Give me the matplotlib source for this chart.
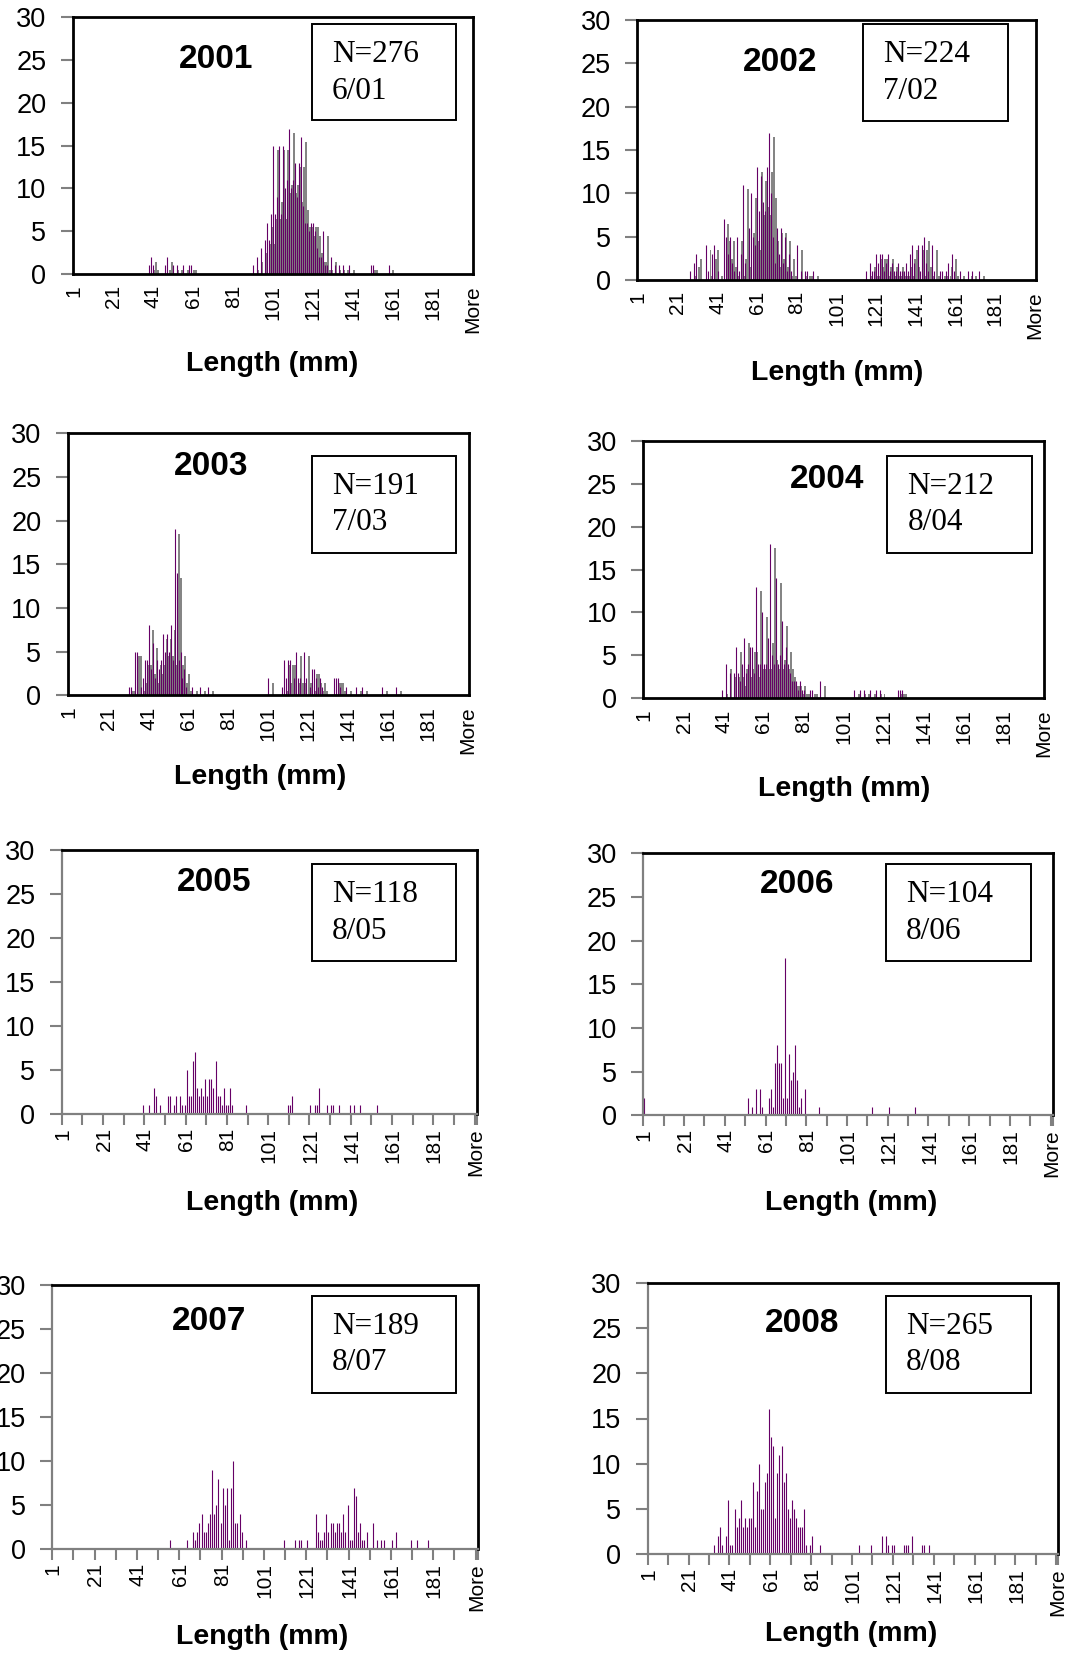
import numpy as np
import matplotlib.pyplot as plt
from matplotlib.patches import Rectangle

W, H = 1067, 1655

# histogram bins: lengths 1..200 mm plus the overflow bin
bins = [str(i) for i in range(1, 201)] + ['More']
tick_labels = ['1', '21', '41', '61', '81', '101', '121', '141', '161', '181', 'More']

years = ['2001', '2002', '2003', '2004', '2005', '2006', '2007', '2008']
sample_n = [276, 224, 191, 212, 118, 104, 189, 265]
sample_dates = ['6/01', '7/02', '7/03', '8/04', '8/05', '8/06', '8/07', '8/08']

# length (mm) -> number of fish
len_2001 = [39, 40, 41, 47, 48, 51, 53, 56, 59, 60,
            91, 93, 95, 97, 98, 99, 100, 101, 102, 103, 104, 105, 106, 107, 108, 109, 110,
            111, 112, 113, 114, 115, 116, 117, 118, 119, 120, 121, 122, 123, 124, 125, 126,
            127, 128, 130, 132, 134, 136, 139, 150, 151, 159]
cnt_2001 = [1, 2, 1, 1, 2, 1, 1, 1, 1, 1,
            1, 2, 3, 4, 6, 4, 7, 15, 7, 9, 15, 7, 15, 10, 11, 17, 10,
            11, 13, 9, 13, 16, 8, 6, 6, 5, 6, 6, 5, 3, 2, 2, 5,
            1, 1, 2, 1, 1, 1, 1, 1, 1, 1]

len_2002 = [27, 29, 30, 35, 36, 38, 39, 41, 44, 45, 46, 47, 48, 49, 51, 52, 53, 54, 55,
            57, 58, 59, 60, 61, 62, 63, 64, 65, 66, 67, 68, 69, 70, 71, 72, 73, 74, 75,
            76, 77, 78, 81, 83, 85, 86, 89,
            116, 118, 119, 120, 121, 122, 123, 124, 125, 126, 127, 128, 129, 130, 131,
            132, 133, 134, 135, 136, 137, 138, 139, 140, 142, 143, 144, 145, 146, 147,
            149, 150, 153, 154, 156, 157, 159, 160, 163, 167, 169, 173]
cnt_2002 = [1, 2, 3, 4, 1, 3, 4, 1, 7, 5, 3, 5, 2, 1, 5, 1, 3, 11, 2,
            6, 10, 5, 4, 13, 8, 12, 9, 8, 13, 17, 10, 5, 2, 6, 3, 6, 2, 5,
            1, 3, 1, 4, 1, 1, 1, 1,
            1, 2, 1, 1, 3, 2, 3, 3, 1, 2, 3, 1, 2, 1, 1,
            2, 1, 1, 1, 2, 1, 3, 4, 2, 4, 1, 4, 5, 2, 1,
            4, 1, 1, 1, 1, 2, 3, 1, 1, 1, 1, 1]

len_2003 = [31, 32, 34, 35, 37, 38, 39, 40, 41, 42, 43, 44, 45, 46, 47, 48, 49, 50, 51,
            52, 53, 54, 55, 56, 57, 58, 59, 60, 63, 67, 71,
            101, 108, 109, 110, 111, 112, 114, 115, 116, 117, 119, 120, 122, 123, 124,
            125, 126, 127, 128, 134, 135, 136, 137, 140, 145, 148, 158, 165]
cnt_2003 = [1, 1, 5, 5, 1, 2, 4, 4, 8, 3, 6, 2, 4, 3, 4, 7, 5, 7, 5,
            8, 4, 19, 14, 4, 5, 2, 3, 1, 1, 1, 1,
            2, 1, 4, 2, 4, 4, 2, 5, 2, 2, 5, 2, 1, 3, 3,
            2, 1, 2, 1, 2, 2, 2, 1, 1, 1, 1, 1, 1]

len_2004 = [40, 42, 44, 46, 47, 48, 49, 50, 51, 52, 53, 54, 55, 56, 57, 58, 59, 60, 61,
            62, 63, 64, 65, 66, 67, 68, 69, 70, 71, 72, 73, 74, 75, 76, 77, 78, 79, 80,
            81, 84, 85, 89, 106, 109, 111, 114, 117, 119, 128, 129, 130]
cnt_2004 = [1, 4, 3, 3, 6, 3, 2, 4, 7, 3, 4, 6, 6, 3, 13, 4, 4, 10, 4,
            4, 7, 18, 5, 4, 14, 4, 5, 9, 4, 6, 4, 3, 2, 2, 2, 1, 2, 1,
            1, 1, 1, 2, 1, 1, 1, 1, 1, 1, 1, 1, 1]

len_2005 = [40, 43, 45, 46, 48, 52, 53, 55, 56, 58, 59, 60, 61, 62, 63, 64, 65, 66, 67,
            68, 69, 70, 71, 72, 73, 74, 75, 76, 77, 78, 79, 80, 81, 82, 83, 90,
            110, 111, 112, 121, 123, 124, 125, 129, 131, 132, 135, 140, 142, 145, 153]
cnt_2005 = [1, 1, 3, 2, 1, 2, 2, 1, 2, 2, 1, 1, 5, 2, 2, 6, 7, 3, 2,
            3, 2, 4, 2, 4, 4, 3, 6, 2, 2, 1, 3, 1, 1, 3, 1, 1,
            1, 1, 2, 1, 1, 1, 3, 1, 1, 1, 1, 1, 1, 1, 1]

len_2006 = [1, 52, 54, 56, 58, 59, 62, 63, 64, 65, 66, 67, 68, 69, 70, 71, 72, 73, 74,
            75, 76, 77, 78, 80, 87, 113, 121, 134]
cnt_2006 = [2, 2, 1, 3, 3, 1, 2, 3, 1, 6, 8, 6, 6, 2, 18, 2, 7, 4, 5,
            8, 4, 1, 2, 3, 1, 1, 1, 1]

len_2007 = [56, 64, 67, 68, 69, 70, 71, 72, 73, 74, 75, 76, 77, 78, 79, 80, 81, 82, 83,
            84, 85, 86, 87, 88, 89, 90, 92,
            110, 115, 117, 118, 121, 125, 126, 127, 128, 129, 130, 131, 132, 133, 134,
            135, 136, 137, 138, 139, 140, 141, 142, 143, 144, 145, 146, 147, 148, 149,
            152, 154, 156, 157, 161, 163, 170, 173, 178]
cnt_2007 = [1, 1, 2, 1, 2, 3, 4, 2, 2, 3, 4, 9, 4, 5, 8, 3, 7, 5, 7,
            1, 7, 10, 3, 3, 4, 2, 1,
            1, 1, 1, 1, 1, 4, 2, 1, 1, 2, 4, 2, 3, 3, 2,
            3, 3, 2, 4, 2, 5, 1, 1, 7, 6, 2, 3, 1, 1, 2,
            3, 1, 1, 1, 1, 2, 1, 1, 1]

len_2008 = [33, 35, 36, 37, 39, 40, 41, 42, 43, 44, 45, 46, 47, 48, 49, 50, 51, 52, 53,
            54, 55, 56, 57, 58, 59, 60, 61, 62, 63, 64, 65, 66, 67, 68, 69, 70, 71, 72,
            73, 74, 75, 76, 77, 78, 80, 81, 85,
            104, 110, 115, 117, 118, 120, 121, 126, 127, 128, 130, 135, 136, 138]
cnt_2008 = [1, 2, 3, 1, 2, 6, 1, 1, 5, 3, 4, 6, 3, 4, 3, 4, 4, 8, 3,
            7, 10, 5, 5, 8, 9, 16, 13, 12, 4, 9, 11, 12, 8, 9, 5, 4, 6, 5,
            4, 3, 3, 3, 5, 1, 1, 2, 1,
            1, 1, 2, 2, 1, 1, 1, 1, 1, 1, 2, 1, 1, 1]

lengths = [len_2001, len_2002, len_2003, len_2004, len_2005, len_2006, len_2007, len_2008]
counts = [cnt_2001, cnt_2002, cnt_2003, cnt_2004, cnt_2005, cnt_2006, cnt_2007, cnt_2008]

# panel geometry in pixels: plot area, year title, x label, legend box
panels = [
    dict(ax=(72.7, 17.3, 473.3, 274), title=(216, 59), xlab=(272, 364), box=(311.7, 24.3, 455.7, 120), shadow=True),
    dict(ax=(637.3, 20, 1036, 280), title=(780, 62.5), xlab=(837, 372.6), box=(863, 24.3, 1007.7, 120.7), shadow=True),
    dict(ax=(67.7, 433.3, 469, 695.3), title=(211, 466.7), xlab=(260, 777), box=(311.7, 456, 455.7, 552.7), shadow=True),
    dict(ax=(643.3, 440.7, 1044.3, 698.3), title=(827, 479), xlab=(844, 789.4), box=(887.3, 456, 1032, 552.7), shadow=True),
    dict(ax=(61.7, 850, 476.7, 1114), title=(214, 882.5), xlab=(272, 1203), box=(311.7, 864.3, 456, 960.7), shadow=False),
    dict(ax=(643.3, 853.3, 1052.7, 1115.3), title=(797.5, 884), xlab=(851, 1203), box=(886, 864.3, 1030.7, 960.7), shadow=False),
    dict(ax=(52.3, 1285, 477.7, 1549.3), title=(209, 1322), xlab=(262, 1637), box=(311.7, 1296, 456, 1392.7), shadow=False),
    dict(ax=(647.7, 1282.7, 1058.3, 1554.3), title=(802, 1324), xlab=(851, 1634), box=(886, 1296, 1030.7, 1392.7), shadow=False),
]

PURPLE = '#660066'
GREY = '#808080'
SANS = 'Liberation Sans'
SERIF = 'Liberation Serif'


def fx(x):
    return x / W


def fy(y):
    return 1 - y / H


fig = plt.figure(figsize=(W / 100, H / 100), dpi=100, facecolor='white')

idx = np.arange(len(bins))
for year, n, date, ls, cs, p in zip(years, sample_n, sample_dates, lengths, counts, panels):
    freq = np.zeros(len(bins))
    for l, c in zip(ls, cs):
        freq[l - 1] = c
    nz = freq > 0

    x0, y0, x1, y1 = p['ax']
    ax = fig.add_axes([fx(x0), fy(y1), fx(x1) - fx(x0), fy(y0) - fy(y1)])

    if p['shadow']:
        # drop shadow offset down and to the right of each column
        ax.bar(idx[nz] + 2.4, np.clip(freq[nz] - 0.55, 0, None), width=1.0,
               color='#858585', linewidth=0, zorder=1)
    # columns are one pixel wide, drawn as crisp snapped lines
    ax.vlines(idx[nz], 0, freq[nz], colors=PURPLE, linewidth=0.8, zorder=2)

    ax.set_xlim(-0.5, len(bins) - 0.5)
    ax.set_ylim(0, 30)
    ax.set_yticks(range(0, 31, 5))
    ax.set_xticks(idx[::20])
    ax.set_xticklabels(tick_labels, rotation=90, fontsize=15, family=SANS, va='top', ha='center')
    for lab in ax.get_yticklabels():
        lab.set_fontsize(19.5)
        lab.set_family(SANS)
    ax.tick_params(axis='y', direction='out', length=9, width=1.5, color=GREY, pad=10)

    if p['shadow']:
        for s in ax.spines.values():
            s.set_color('black')
            s.set_linewidth(2.0)
        ax.tick_params(axis='x', length=0, pad=8)
    else:
        for side in ('top', 'right'):
            ax.spines[side].set_color('black')
            ax.spines[side].set_linewidth(2.0)
        for side in ('left', 'bottom'):
            ax.spines[side].set_color(GREY)
            ax.spines[side].set_linewidth(1.6)
        ax.set_xticks(np.append(np.arange(-0.5, 200, 10), len(bins) - 0.5), minor=True)
        ax.tick_params(axis='x', which='major', length=0, pad=10)
        ax.tick_params(axis='x', which='minor', direction='out', length=8, width=1.5, color=GREY)

    # year title and axis label
    tx, ty = p['title']
    fig.text(fx(tx), fy(ty), year, fontsize=24, fontweight='bold', family=SANS,
             ha='center', va='center')
    lx, ly = p['xlab']
    fig.text(fx(lx), fy(ly), 'Length (mm)', fontsize=20.5, fontweight='bold', family=SANS,
             ha='center', va='center')

    # sample size / date box
    bx0, by0, bx1, by1 = p['box']
    fig.add_artist(Rectangle((fx(bx0), fy(by1)), fx(bx1) - fx(bx0), fy(by0) - fy(by1),
                             transform=fig.transFigure, fill=False, ec='black', lw=1.4))
    fig.text(fx(bx0 + 20), fy(by0 + 30), f'N={n}', fontsize=22.5, family=SERIF,
             ha='left', va='center')
    fig.text(fx(bx0 + 20), fy(by0 + 67), date, fontsize=22.5, family=SERIF,
             ha='left', va='center')

fig.savefig('out.png', dpi=100, facecolor='white')
